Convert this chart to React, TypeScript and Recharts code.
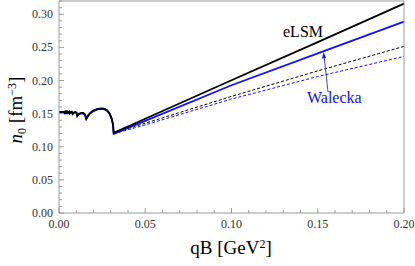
import { LineChart, Line, XAxis, YAxis } from 'recharts';

// oscillating low-field part (same qB grid for both models)
const oscQb = [
  0, 0.003, 0.0032, 0.0034, 0.0035, 0.0038, 0.004, 0.0043, 0.0045, 0.005, 0.0053, 0.006,
  0.0063, 0.0068, 0.0074, 0.0079, 0.0086, 0.0095, 0.0102, 0.0106, 0.0115, 0.0128, 0.014,
  0.015, 0.0158, 0.017, 0.0185, 0.0205, 0.0225, 0.0245, 0.0262, 0.0278, 0.0293, 0.0305,
  0.0313, 0.0317,
];
const eLsmOsc = [
  0.1525, 0.1527, 0.1519, 0.1527, 0.1519, 0.1528, 0.1518, 0.1529, 0.1517, 0.153, 0.1514, 0.153,
  0.151, 0.1525, 0.1531, 0.15, 0.1518, 0.1525, 0.1515, 0.1468, 0.1498, 0.1512, 0.151,
  0.149, 0.1426, 0.148, 0.152, 0.1553, 0.1572, 0.158, 0.1576, 0.1552, 0.1505, 0.143,
  0.134, 0.121,
];
const waleckaOsc = [
  0.1517, 0.1519, 0.1511, 0.1519, 0.1511, 0.152, 0.151, 0.1521, 0.1509, 0.1522, 0.1506, 0.1522,
  0.1502, 0.1517, 0.1523, 0.1492, 0.151, 0.1517, 0.1507, 0.146, 0.149, 0.1504, 0.1502,
  0.1482, 0.1418, 0.1472, 0.1512, 0.1545, 0.1564, 0.1572, 0.1568, 0.1544, 0.1497, 0.1422,
  0.1332, 0.1195,
];

// high-field part
const linQb = [0.0317, 0.05, 0.1, 0.15, 0.2];
const eLsmSolid = [0.121, 0.1422, 0.2003, 0.258, 0.316];
const waleckaSolid = [0.1195, 0.139, 0.1928, 0.241, 0.289];
const eLsmDashed = [0.121, 0.1355, 0.176, 0.2145, 0.2515];
const waleckaDashed = [0.1195, 0.133, 0.172, 0.206, 0.2364];

const xTicks = [
  0, 0.01, 0.02, 0.03, 0.04, 0.05, 0.06, 0.07, 0.08, 0.09, 0.1, 0.11, 0.12, 0.13, 0.14, 0.15,
  0.16, 0.17, 0.18, 0.19, 0.2,
];
const yTicks = [
  0, 0.01, 0.02, 0.03, 0.04, 0.05, 0.06, 0.07, 0.08, 0.09, 0.1, 0.11, 0.12, 0.13, 0.14, 0.15,
  0.16, 0.17, 0.18, 0.19, 0.2, 0.21, 0.22, 0.23, 0.24, 0.25, 0.26, 0.27, 0.28, 0.29, 0.3,
  0.31, 0.32,
];

const solidE = [
  ...oscQb.map((q, i) => ({ qb: q, n: eLsmOsc[i] })),
  ...linQb.slice(1).map((q, i) => ({ qb: q, n: eLsmSolid[i + 1] })),
];
const solidW = [
  ...oscQb.map((q, i) => ({ qb: q, n: waleckaOsc[i] })),
  ...linQb.slice(1).map((q, i) => ({ qb: q, n: waleckaSolid[i + 1] })),
];
const dashE = linQb.map((q, i) => ({ qb: q, n: eLsmDashed[i] }));
const dashW = linQb.map((q, i) => ({ qb: q, n: waleckaDashed[i] }));

const FONT = '"Liberation Serif", "DejaVu Serif", serif';
const FRAME = '#9a9a9a';
const BLUE = '#1010ff';

const isMajor = (v: number) => Math.round(v * 100) % 5 === 0;

function makeTick(side: 'bottom' | 'top' | 'left' | 'right') {
  return (props: any) => {
    const { x, y, payload } = props;
    const v = payload.value as number;
    const len = isMajor(v) ? 5 : 3;
    let line;
    if (side === 'bottom') line = <line x1={x} y1={y} x2={x} y2={y - len} stroke={FRAME} />;
    else if (side === 'top') line = <line x1={x} y1={y} x2={x} y2={y + len} stroke={FRAME} />;
    else if (side === 'left') line = <line x1={x} y1={y} x2={x + len} y2={y} stroke={FRAME} />;
    else line = <line x1={x} y1={y} x2={x - len} y2={y} stroke={FRAME} />;
    let label = null;
    if (side === 'bottom' && isMajor(v)) {
      label = (
        <text x={x} y={y + 15} textAnchor="middle" fontSize={12} fontFamily={FONT} fill="#333">
          {v.toFixed(2)}
        </text>
      );
    }
    if (side === 'left' && isMajor(v)) {
      label = (
        <text x={x - 6} y={y + 4} textAnchor="end" fontSize={12} fontFamily={FONT} fill="#333">
          {v.toFixed(2)}
        </text>
      );
    }
    return (
      <g>
        {line}
        {label}
      </g>
    );
  };
}

export default function App() {
  return (
    <div style={{ position: 'absolute', left: 0, top: 0, width: 415, height: 266 }}>
      <LineChart width={415} height={266} margin={{ top: 0, right: 10, bottom: 52, left: 0 }}>
        <XAxis
          xAxisId="b"
          dataKey="qb"
          type="number"
          domain={[0, 0.2]}
          ticks={xTicks}
          interval={0}
          height={1}
          tickSize={0}
          tickMargin={0}
          tick={makeTick('bottom')}
          stroke={FRAME}
          allowDuplicatedCategory={false}
        />
        <XAxis
          xAxisId="t"
          orientation="top"
          dataKey="qb"
          type="number"
          domain={[0, 0.2]}
          ticks={xTicks}
          interval={0}
          height={1}
          tickSize={0}
          tickMargin={0}
          tick={makeTick('top')}
          stroke={FRAME}
        />
        <YAxis
          yAxisId="l"
          type="number"
          domain={[0, 0.32]}
          ticks={yTicks}
          interval={0}
          width={59}
          tickSize={0}
          tickMargin={0}
          tick={makeTick('left')}
          stroke={FRAME}
        />
        <YAxis
          yAxisId="r"
          orientation="right"
          type="number"
          domain={[0, 0.32]}
          ticks={yTicks}
          interval={0}
          width={1}
          tickSize={0}
          tickMargin={0}
          tick={makeTick('right')}
          stroke={FRAME}
        />
        <Line
          xAxisId="b"
          yAxisId="l"
          data={dashW}
          dataKey="n"
          stroke={BLUE}
          strokeWidth={1}
          strokeDasharray="3 2"
          dot={false}
          isAnimationActive={false}
        />
        <Line
          xAxisId="b"
          yAxisId="l"
          data={dashE}
          dataKey="n"
          stroke="#000"
          strokeWidth={1}
          strokeDasharray="3 2"
          dot={false}
          isAnimationActive={false}
        />
        <Line
          xAxisId="b"
          yAxisId="l"
          data={solidW}
          dataKey="n"
          stroke={BLUE}
          strokeWidth={1.8}
          dot={false}
          isAnimationActive={false}
        />
        <Line
          xAxisId="b"
          yAxisId="l"
          data={solidE}
          dataKey="n"
          stroke="#000"
          strokeWidth={1.8}
          dot={false}
          isAnimationActive={false}
        />
      </LineChart>

      {/* annotations */}
      <div style={{ position: 'absolute', left: 283, top: 24, fontFamily: FONT, fontSize: 16, lineHeight: 1 }}>
        eLSM
      </div>
      <div
        style={{ position: 'absolute', left: 307, top: 90, fontFamily: FONT, fontSize: 16, lineHeight: 1, color: BLUE }}
      >
        Walecka
      </div>
      <svg style={{ position: 'absolute', left: 0, top: 0 }} width={415} height={266}>
        <line x1={328} y1={92} x2={324.2} y2={57} stroke={BLUE} strokeWidth={0.8} />
        <polygon points="323.7,52 322,58.5 326,58" fill={BLUE} />
      </svg>

      {/* axis titles */}
      <div
        style={{
          position: 'absolute',
          left: 231,
          top: 238,
          transform: 'translateX(-50%)',
          fontFamily: FONT,
          fontSize: 19,
          lineHeight: 1,
          whiteSpace: 'nowrap',
        }}
      >
        qB [GeV<sup style={{ fontSize: 12, verticalAlign: 'top', lineHeight: 1 }}>2</sup>]
      </div>
      <div
        style={{
          position: 'absolute',
          left: 17,
          top: 110,
          transform: 'translate(-50%, -50%) rotate(-90deg)',
          fontFamily: FONT,
          fontSize: 19,
          lineHeight: 1,
          whiteSpace: 'nowrap',
        }}
      >
        <i>n</i>
        <sub style={{ fontSize: 12, lineHeight: 1 }}>0</sub> [fm
        <sup style={{ fontSize: 12, verticalAlign: 'top', lineHeight: 1 }}>−3</sup>]
      </div>
    </div>
  );
}
